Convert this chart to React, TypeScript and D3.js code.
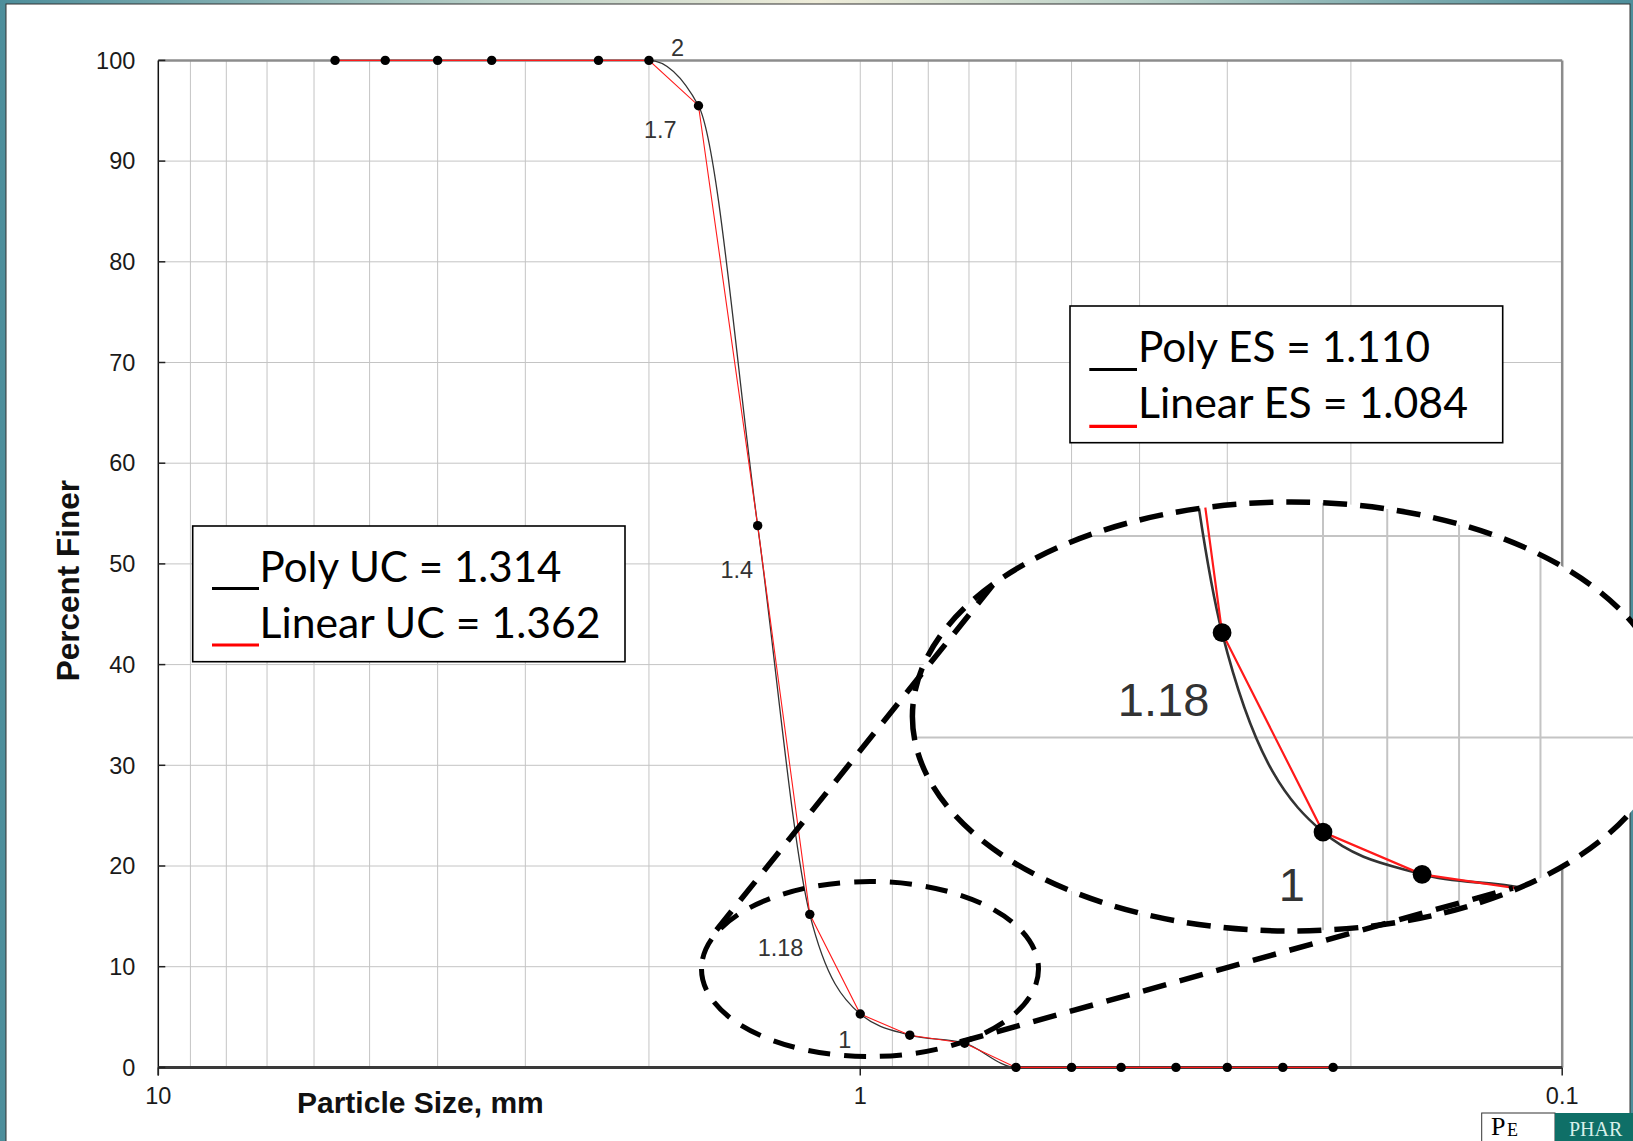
import React from "react";
import * as d3 from "d3";

// Sieve analysis: particle size (mm) vs percent finer
const sieveSizesMm = [5.6, 4.75, 4.0, 3.35, 2.36, 2.0, 1.7, 1.4, 1.18, 1.0, 0.85, 0.71, 0.6, 0.5, 0.425, 0.355, 0.3, 0.25, 0.212];
const percentFiner = [100, 100, 100, 100, 100, 100, 95.5, 53.8, 15.2, 5.3, 3.2, 2.4, 0, 0, 0, 0, 0, 0, 0];

// Sizes that carry a text label next to their point
const labelledSizes = [2.0, 1.7, 1.4, 1.18, 1.0];
const labelledText = ["2", "1.7", "1.4", "1.18", "1"];
// Labels repeated inside the magnified view
const magnifiedLabelSizes = [1.18, 1.0];

const yTickValues = [0, 10, 20, 30, 40, 50, 60, 70, 80, 90, 100];
const xTickValues = [10, 1, 0.1];
const xTickText = ["10", "1", "0.1"];

const ucLabels = ["Poly UC = 1.314", "Linear UC = 1.362"];
const esLabels = ["Poly ES = 1.110", "Linear ES = 1.084"];
const legendMarkColors = ["#000000", "#ff0000"];

// ---- layout ----
const W = 1633;
const H = 1141;
const M = { left: 158.3, right: 1562.2, top: 60.4, bottom: 1067.4 };
const labelOffsets = [
  { dx: 22, dy: -4.4, anchor: "start" },
  { dx: -21.8, dy: 32, anchor: "end" },
  { dx: -4.6, dy: 52.4, anchor: "end" },
  { dx: -6.4, dy: 41.7, anchor: "end" },
  { dx: -9, dy: 34.3, anchor: "end" },
];
const magnify = { k: 2, tx: -397.5, ty: -1196 };
const bigEllipse = { cx: 1291.4, cy: 716.5, rx: 379, ry: 214.5 };
const bigCrop = { cx: 1291.4, cy: 729, rx: 377, ry: 228 };
const smallEllipse = { cx: 870, cy: 969, rx: 168.5, ry: 87.5 };
const connectors = [
  { x1: 716.5, y1: 930, x2: 994.5, y2: 583 },
  { x1: 960, y1: 1042, x2: 1513, y2: 888 },
];

const x = d3.scaleLog().domain([10, 0.1]).range([M.left, M.right]);
const y = d3.scaleLinear().domain([0, 100]).range([M.bottom, M.top]);

const points = sieveSizesMm.map((s, i) => ({ s, p: percentFiner[i] }));
const polyLine = d3
  .line<{ s: number; p: number }>()
  .x((d) => x(d.s))
  .y((d) => y(d.p))
  .curve(d3.curveMonotoneX);
const linearLine = d3
  .line<{ s: number; p: number }>()
  .x((d) => x(d.s))
  .y((d) => y(d.p))
  .curve(d3.curveLinear);

const gridX = x.ticks().filter((t) => t > 0.1 + 1e-9 && t < 10 - 1e-9);
const gridY = yTickValues.filter((t) => t > 0 && t < 100);

const ARIAL = "'Liberation Sans', Arial, sans-serif";
const CAL = "Lato, 'Open Sans', sans-serif";
const SERIF = "'Liberation Serif', serif";

function Grid() {
  return (
    <g>
      {gridX.map((t) => (
        <line key={"gx" + t} x1={x(t)} x2={x(t)} y1={M.top} y2={M.bottom} stroke="#c4c4c4" strokeWidth={1} />
      ))}
      {gridY.map((t) => (
        <line key={"gy" + t} x1={M.left} x2={M.right} y1={y(t)} y2={y(t)} stroke="#c4c4c4" strokeWidth={1} />
      ))}
    </g>
  );
}

function Series({ labelSizes }: { labelSizes: number[] }) {
  return (
    <g>
      <path d={polyLine(points) || ""} fill="none" stroke="#333" strokeWidth={1.3} />
      <path d={linearLine(points) || ""} fill="none" stroke="#ff1a1a" strokeWidth={1.1} />
      {points.map((d, i) => (
        <circle key={"pt" + i} cx={x(d.s)} cy={y(d.p)} r={4.7} fill="#000" />
      ))}
      {labelledSizes.map((s, i) => {
        if (!labelSizes.includes(s)) return null;
        const idx = sieveSizesMm.indexOf(s);
        const o = labelOffsets[i];
        return (
          <text
            key={"lbl" + i}
            x={x(s) + o.dx}
            y={y(percentFiner[idx]) + o.dy}
            textAnchor={o.anchor as any}
            fontFamily={ARIAL}
            fontSize={23.5}
            fill="#333"
          >
            {labelledText[i]}
          </text>
        );
      })}
    </g>
  );
}

function Legend({ bx, by, bw, bh, mx0, mx1, tx, baselines, markYs, lengths, labels }: any) {
  return (
    <g>
      <rect x={bx} y={by} width={bw} height={bh} fill="#fff" stroke="#000" strokeWidth={1.6} />
      {labels.map((lab: string, i: number) => (
        <g key={lab}>
          <line x1={mx0} x2={mx1} y1={markYs[i]} y2={markYs[i]} stroke={legendMarkColors[i]} strokeWidth={3.2} />
          <text
            x={tx}
            y={baselines[i]}
            fontFamily={CAL}
            fontSize={42}
            fill="#000"
            textLength={lengths[i]}
            lengthAdjust="spacingAndGlyphs"
          >
            {lab}
          </text>
        </g>
      ))}
    </g>
  );
}

export default function App() {
  const ellipsePath = (e: any) =>
    `M${e.cx - e.rx},${e.cy}a${e.rx},${e.ry} 0 1,0 ${2 * e.rx},0a${e.rx},${e.ry} 0 1,0 ${-2 * e.rx},0Z`;
  return (
    <svg
      width={W}
      height={H}
      viewBox={`0 0 ${W} ${H}`}
      style={{ position: "absolute", left: 0, top: 0, display: "block" }}
    >
      <defs>
        <linearGradient id="frameGrad" x1="0" x2="1" y1="0" y2="0">
          <stop offset="0%" stopColor="#4d8e9b" />
          <stop offset="30%" stopColor="#b9d0c8" />
          <stop offset="50%" stopColor="#eeecd9" />
          <stop offset="70%" stopColor="#b9d0c8" />
          <stop offset="100%" stopColor="#4d8e9b" />
        </linearGradient>
        <clipPath id="clipBig">
          <path d={ellipsePath(bigEllipse)} />
        </clipPath>
        <clipPath id="clipCrop">
          <path d={ellipsePath(bigCrop)} />
        </clipPath>
      </defs>

      {/* slide frame */}
      <rect x={0} y={0} width={W} height={H} fill="url(#frameGrad)" />
      <rect x={6} y={4} width={1624} height={H} fill="#ffffff" stroke="#333" strokeWidth={1} />

      <Grid />

      <Legend
        bx={192.7}
        by={526}
        bw={432.3}
        bh={135.7}
        mx0={212}
        mx1={259}
        tx={259.5}
        baselines={[581.7, 638.3]}
        markYs={[588.5, 645]}
        lengths={[302, 341]}
        labels={ucLabels}
      />
      <Legend
        bx={1070}
        by={306}
        bw={432.7}
        bh={136.7}
        mx0={1089.3}
        mx1={1137}
        tx={1138}
        baselines={[361.7, 418.3]}
        markYs={[369.5, 426.3]}
        lengths={[292, 330]}
        labels={esLabels}
      />

      {/* plot frame and axes */}
      <line x1={M.left} x2={M.right} y1={M.top} y2={M.top} stroke="#8c8c8c" strokeWidth={2.5} />
      <line x1={M.right} x2={M.right} y1={M.top} y2={M.bottom} stroke="#8c8c8c" strokeWidth={2.5} />
      <line x1={M.left} x2={M.left} y1={M.top} y2={M.bottom + 8} stroke="#111" strokeWidth={1.5} />
      <line x1={M.left} x2={M.right} y1={M.bottom} y2={M.bottom} stroke="#3a3a3a" strokeWidth={3} />
      {yTickValues.map((t) => (
        <g key={"yt" + t}>
          <line x1={M.left} x2={M.left + 7} y1={y(t)} y2={y(t)} stroke="#222" strokeWidth={1.5} />
          <text x={M.left - 23} y={y(t)} dy="0.35em" textAnchor="end" fontFamily={ARIAL} fontSize={23.5} fill="#1a1a1a">
            {t}
          </text>
        </g>
      ))}
      {xTickValues.map((t, i) => (
        <g key={"xt" + t}>
          <line x1={x(t)} x2={x(t)} y1={M.bottom} y2={M.bottom + 8} stroke="#222" strokeWidth={1.5} />
          <text x={x(t)} y={1104} textAnchor="middle" fontFamily={ARIAL} fontSize={23.5} fill="#1a1a1a">
            {xTickText[i]}
          </text>
        </g>
      ))}
      <text x={297} y={1113} fontFamily={ARIAL} fontWeight="bold" fontSize={30} fill="#111">
        Particle Size, mm
      </text>
      <text
        transform="translate(79,580.6) rotate(-90)"
        textAnchor="middle"
        fontFamily={ARIAL}
        fontWeight="bold"
        fontSize={31.5}
        fill="#111"
      >
        Percent Finer
      </text>

      <Series labelSizes={labelledSizes} />

      {/* magnified view of the 1.18 - 0.71 mm region */}
      <path d={ellipsePath(bigEllipse)} fill="#fff" />
      <g clipPath="url(#clipCrop)">
        <g clipPath="url(#clipBig)">
          <g transform={`translate(${magnify.tx},${magnify.ty}) scale(${magnify.k})`}>
            <Grid />
            <Series labelSizes={magnifiedLabelSizes} />
          </g>
        </g>
      </g>
      <path
        d={ellipsePath(bigEllipse)}
        fill="none"
        stroke="#000"
        strokeWidth={5.5}
        strokeDasharray="24 13"
      />
      <path
        d={ellipsePath(smallEllipse)}
        fill="none"
        stroke="#000"
        strokeWidth={5}
        strokeDasharray="22 14"
      />
      {connectors.map((c, i) => (
        <line
          key={"cn" + i}
          x1={c.x1}
          y1={c.y1}
          x2={c.x2}
          y2={c.y2}
          stroke="#000"
          strokeWidth={5.5}
          strokeDasharray="24 14"
        />
      ))}

      {/* logo */}
      <rect x={1481.7} y={1113} width={73.3} height={40} fill="#fff" stroke="#333" strokeWidth={1} />
      <text x={1491} y={1134.5} fontFamily={SERIF} fontSize={26} fill="#000">
        P
      </text>
      <text x={1507} y={1135.5} fontFamily={SERIF} fontSize={18} fill="#000">
        E
      </text>
      <rect x={1555} y={1113} width={80} height={40} fill="#0f6f67" />
      <text x={1569} y={1135.5} fontFamily={SERIF} fontSize={20} fill="#d8f0ea">
        PHAR
      </text>
    </svg>
  );
}
